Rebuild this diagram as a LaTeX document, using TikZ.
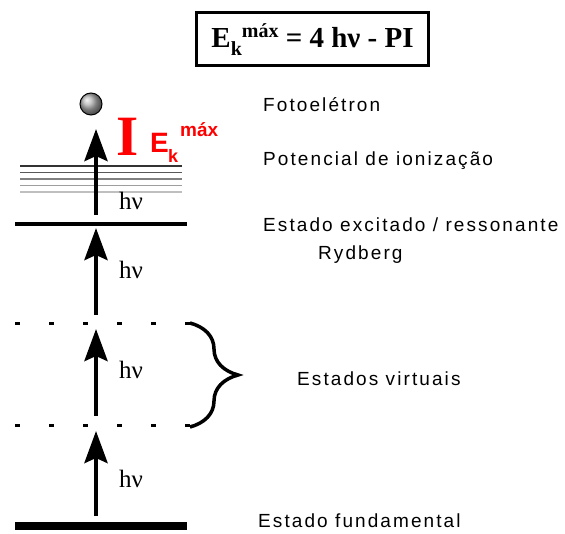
\documentclass[tikz,border=0pt]{standalone}
\usepackage{fontspec}
\setmainfont{Liberation Sans}
\newfontfamily\lblfont{Liberation Sans}[LetterSpace=11]
\newfontfamily\serfont{Liberation Serif}
\usepackage{tikz}
\usetikzlibrary{arrows.meta,positioning,calc,decorations.pathreplacing,shadings}
\definecolor{ekred}{HTML}{FF0000}

\begin{document}
\begin{tikzpicture}[
    x=1pt, y=-1pt,
    level/.style={line width=3.5pt},
    groundlevel/.style={line width=8pt},
    ionline/.style={line width=1.6pt},
    virtual/.style={line width=3pt, dash pattern=on 5pt off 29pt},
    photon/.style={-{Stealth[length=32pt, width=23pt, inset=5pt]}, line width=4.5pt},
    hvlbl/.style={anchor=base west, inner sep=0pt, font={\serfont\fontsize{25}{25}\selectfont}},
    lbl/.style={anchor=base west, inner sep=0pt, font={\lblfont\fontsize{19}{21}\selectfont}}
]
    \useasboundingbox (0,0) rectangle (565,534);

    % --- FORMULA BOX ---
    \node[draw, line width=3pt, minimum width=232pt, minimum height=53pt, inner sep=0pt,
          font={\serfont\bfseries\fontsize{29}{29}\selectfont}] (formula) at (312.5,39.5)
        {E\raisebox{-8pt}{\fontsize{20}{20}\selectfont k}\raisebox{10pt}{\fontsize{20}{20}\selectfont máx} = 4 hν - PI};

    % --- ENERGY LEVELS ---
    \draw[groundlevel] (15,526) coordinate (g0) -- (187,526) coordinate (g1);
    \draw[virtual] (15,426) coordinate (v0) -- (192,426) coordinate (v1);
    \draw[virtual] (15,324) coordinate (w0) -- (192,324) coordinate (w1);
    \draw[level] (15,224) coordinate (x0) -- (187,224) coordinate (x1);

    % ionization continuum
    \draw[ionline, black!80] (20,166) -- (182,166);
    \draw[ionline, black!65] (20,172.5) -- (182,172.5);
    \draw[ionline, black!50] (20,179) -- (182,179);
    \draw[ionline, black!38] (20,185.5) -- (182,185.5);
    \draw[ionline, black!25] (20,192) -- (182,192);

    % --- PHOTON ARROWS ---
    \coordinate (p1s) at (96,516);
    \coordinate (p1e) at (96,431);
    \coordinate (p2s) at (96,416);
    \coordinate (p2e) at (96,329);
    \coordinate (p3s) at (96,315);
    \coordinate (p3e) at (96,228);
    \coordinate (p4s) at (96,215);
    \coordinate (p4e) at (96,129);
    \draw[photon] (p1s) -- (p1e);
    \draw[photon] (p2s) -- (p2e);
    \draw[photon] (p3s) -- (p3e);
    \draw[photon] (p4s) -- (p4e);

    \node[hvlbl] (hv1) at (119,487) {hν};
    \node[hvlbl] (hv2) at (119,379) {hν};
    \node[hvlbl] (hv3) at (119,279) {hν};
    \node[hvlbl] (hv4) at (119,210) {hν};

    % --- PHOTOELECTRON ---
    \shade[ball color=gray!60] (91,104) circle (11pt);
    \draw[line width=1pt] (91,104) circle (11pt);
    \node[inner sep=0pt, minimum size=22pt] (electron) at (91,104) {};

    % --- KINETIC ENERGY LABEL ---
    \node[anchor=base west, inner sep=0pt, text=ekred, font={\serfont\bfseries\fontsize{57}{57}\selectfont}] (ekbar) at (116,156) {I};
    \node[anchor=base west, inner sep=0pt, text=ekred, font={\bfseries\fontsize{28}{28}\selectfont}] (ekE) at (150,153) {E};
    \node[anchor=base west, inner sep=0pt, text=ekred, font={\bfseries\fontsize{18}{18}\selectfont}] (ekk) at (168,163) {k};
    \node[anchor=base west, inner sep=0pt, text=ekred, font={\bfseries\fontsize{19}{19}\selectfont}] (ekmax) at (180,137) {máx};

    % --- BRACE ---
    \draw[decorate, decoration={brace, amplitude=48pt, aspect=0.5}, line width=3.5pt]
        (190,323) coordinate (b0) -- (190,427) coordinate (b1);

    % --- LABELS ---
    \node[lbl] (fotoel) at (263,112) {Fotoelétron};
    \node[lbl] (ioniz) at (263,166) {Potencial de ionização};
    \node[lbl] (excit) at (263,232) {Estado excitado / ressonante};
    \node[lbl] (rydb) at (318,260) {Rydberg};
    \node[lbl] (virt) at (297,386) {Estados virtuais};
    \node[lbl] (fund) at (258,527) {Estado fundamental};
\end{tikzpicture}
\end{document}
